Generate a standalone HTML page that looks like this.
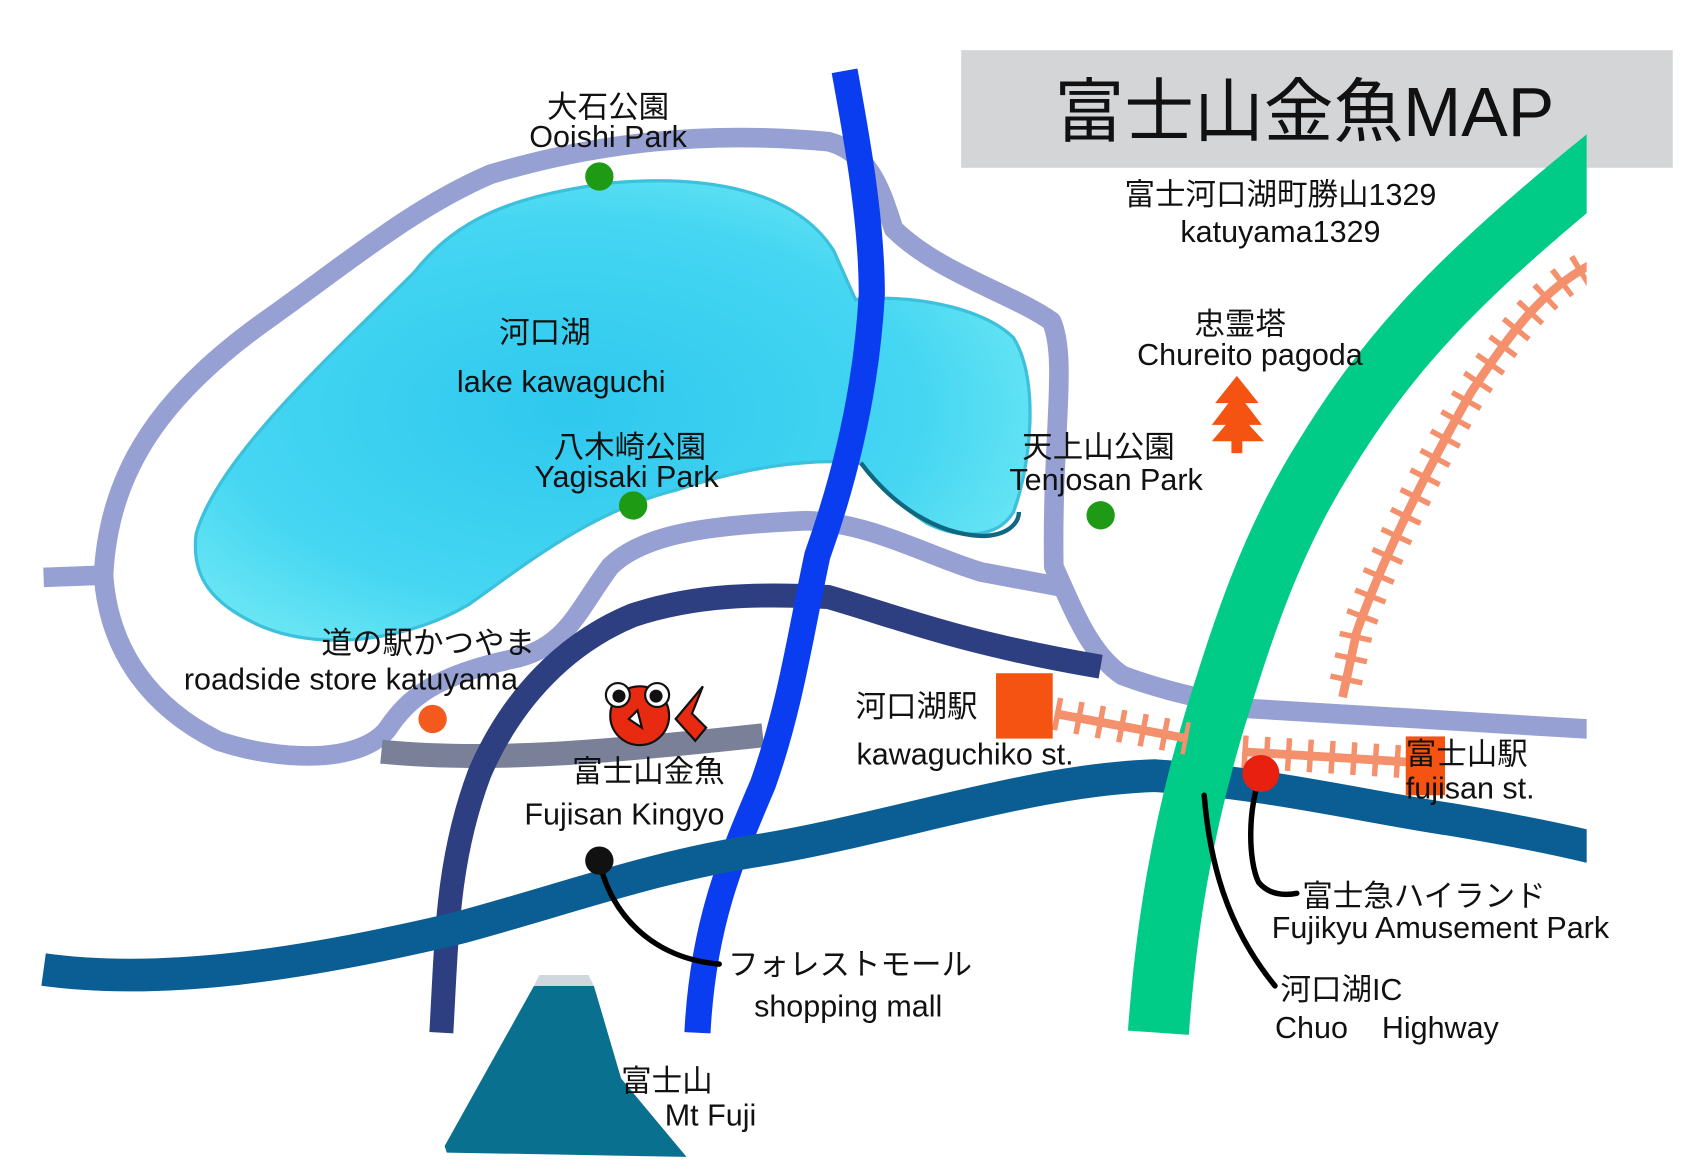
<!DOCTYPE html>
<html><head><meta charset="utf-8"><style>
html,body{margin:0;padding:0;background:#fff;}
svg{display:block;}
text{font-family:"Liberation Sans","Noto Sans CJK JP",sans-serif;font-size:28px;fill:#111;}
</style></head><body>
<svg width="1700" height="1170" viewBox="0 0 1560 1074" preserveAspectRatio="none" xmlns="http://www.w3.org/2000/svg">
<defs>
<radialGradient id="lk" cx="0.45" cy="0.5" r="0.6"><stop offset="0" stop-color="#2fc8ee"/><stop offset="0.7" stop-color="#45d6f2"/><stop offset="1" stop-color="#6ae6f4"/></radialGradient>
<clipPath id="cp"><rect x="0" y="0" width="1456" height="1074"/></clipPath>
</defs>
<rect x="882" y="46" width="653" height="108" fill="#d3d5d7"/>
<text x="1197" y="125" style="font-size:64px" text-anchor="middle">富士山金魚MAP</text>
<text x="1175" y="188" text-anchor="middle">富士河口湖町勝山1329</text>
<text x="1175" y="222" text-anchor="middle">katuyama1329</text>

<!-- lake -->
<path d="M180,490 C200,420 300,330 380,250 C420,200 470,180 560,168 C650,160 730,175 765,230 L785,275 C830,270 900,280 930,310 C955,350 945,430 930,470 C915,495 880,495 850,480 C820,460 800,440 790,425 C740,420 680,430 620,450 C540,470 480,520 430,555 C380,585 300,600 240,575 C195,555 175,530 180,490 Z" fill="url(#lk)" stroke="#3cc0dc" stroke-width="3"/>
<path d="M790,425 C820,465 860,490 900,492 C925,492 935,480 935,470" fill="none" stroke="#0f6880" stroke-width="4"/>

<g clip-path="url(#cp)">
<g fill="none" stroke="#96a0d2" stroke-width="18" stroke-linejoin="round">
<path d="M40,530 L95,528"/>
<path d="M95,528 C100,430 150,360 250,290 C320,240 380,190 450,160 C550,130 650,120 760,130 C800,140 810,180 820,210 C860,250 930,270 965,295 C980,330 965,400 967,520 C985,560 1000,600 1030,620 C1070,635 1100,640 1140,650 L1470,670"/>
<path d="M95,528 C100,600 140,650 200,680 C260,700 330,700 355,670 C375,640 400,620 470,605 C520,595 530,560 560,520 C590,490 650,482 740,478 C800,480 850,510 900,525 L980,540"/>
</g>
<path d="M350,690 C450,700 560,690 700,675" fill="none" stroke="#7a8098" stroke-width="22"/>
<path d="M405,948 C410,860 410,790 440,710 C470,640 520,590 580,565 C640,545 700,545 760,548 C820,565 880,590 1010,612" fill="none" stroke="#2d3f80" stroke-width="22"/>
<path d="M775,65 C785,120 800,200 800,270 C795,360 775,440 750,510 C735,580 725,650 700,720 C670,790 645,850 640,948" fill="none" stroke="#0a3cf0" stroke-width="24"/>
<path d="M40,890 C150,905 280,885 420,852 C520,825 600,795 700,780 C820,760 950,715 1060,712 C1160,718 1250,740 1330,752 C1390,762 1430,770 1470,780" fill="none" stroke="#0a5e94" stroke-width="30"/>
<path d="M1063,948 C1070,850 1085,760 1115,660 C1140,580 1165,500 1215,420 C1270,330 1330,260 1480,140" fill="none" stroke="#00cc88" stroke-width="56"/>
<g fill="none" stroke="#f4906c">
<path d="M1470,238 C1420,260 1390,300 1350,360 C1310,430 1270,510 1245,580 L1232,640" stroke-width="8"/>
<path d="M1470,238 C1420,260 1390,300 1350,360 C1310,430 1270,510 1245,580 L1232,640" stroke-width="30" stroke-dasharray="5 15"/>
<path d="M968,655 L1090,678" stroke-width="8"/>
<path d="M968,655 L1090,678" stroke-width="30" stroke-dasharray="5 15"/>
<path d="M1140,690 L1300,700" stroke-width="8"/>
<path d="M1140,690 L1300,700" stroke-width="30" stroke-dasharray="5 15"/>
</g>
</g>
<rect x="914" y="618" width="52" height="60" fill="#f45312"/>
<rect x="1290" y="676" width="36" height="54" fill="#f45312"/>
<g fill="#f45312">
<polygon points="1135,345 1115,370 1155,370"/>
<polygon points="1135,360 1112,390 1158,390"/>
<polygon points="1135,378 1112,405 1160,405"/>
<rect x="1130" y="400" width="10" height="16"/>
</g>
<g fill="#1e9a14"><circle cx="550" cy="162" r="13"/><circle cx="581" cy="464" r="13"/><circle cx="1010" cy="473" r="13"/></g>
<circle cx="397" cy="660" r="13" fill="#f45a1e"/>
<g fill="none" stroke="#000" stroke-width="5" stroke-linecap="round">
<path d="M550,790 C560,840 600,880 660,885"/>
<path d="M1157,712 C1145,740 1145,790 1155,810 C1165,822 1180,822 1190,820"/>
<path d="M1105,730 C1110,790 1125,850 1170,905"/>
</g>
<circle cx="550" cy="790" r="13" fill="#111"/>
<circle cx="1157" cy="710" r="17" fill="#e82010"/>
<polygon points="408,1052 490,905 545,905 570,990 630,1062 410,1058" fill="#0a7090"/>
<polygon points="490,905 545,905 540,895 495,895" fill="#cfd8dc"/>
<g stroke="#111" stroke-width="2">
<polygon points="620,660 645,630 635,655 648,668 638,680" fill="#e82a10"/>
<circle cx="587" cy="657" r="27" fill="#e82a10"/>
<circle cx="567" cy="638" r="11" fill="#fff"/><circle cx="603" cy="638" r="11" fill="#fff"/>
<circle cx="568" cy="639" r="5" fill="#111"/><circle cx="602" cy="639" r="5" fill="#111"/>
<polygon points="577,660 585,652 589,668" fill="#fff"/>
</g>

<text x="558" y="108" text-anchor="middle">大石公園</text>
<text x="558" y="135" text-anchor="middle">Ooishi Park</text>
<text x="500" y="315" text-anchor="middle">河口湖</text>
<text x="515" y="360" text-anchor="middle">lake kawaguchi</text>
<text x="578" y="420" text-anchor="middle">八木崎公園</text>
<text x="575" y="447" text-anchor="middle">Yagisaki Park</text>
<text x="1008" y="420" text-anchor="middle">天上山公園</text>
<text x="1015" y="450" text-anchor="middle">Tenjosan Park</text>
<text x="1138" y="307" text-anchor="middle">忠霊塔</text>
<text x="1147" y="335" text-anchor="middle">Chureito pagoda</text>
<text x="393" y="600" text-anchor="middle">道の駅かつやま</text>
<text x="322" y="633" text-anchor="middle">roadside store katuyama</text>
<text x="785" y="658">河口湖駅</text>
<text x="786" y="702">kawaguchiko st.</text>
<text x="1290" y="702">富士山駅</text>
<text x="1290" y="733">fujisan st.</text>
<text x="595" y="718" text-anchor="middle">富士山金魚</text>
<text x="573" y="757" text-anchor="middle">Fujisan Kingyo</text>
<text x="668" y="895">フォレストモール</text>
<text x="692" y="933">shopping mall</text>
<text x="1195" y="832">富士急ハイランド</text>
<text x="1167" y="861">Fujikyu Amusement Park</text>
<text x="1175" y="918">河口湖IC</text>
<text x="1170" y="953" xml:space="preserve">Chuo    Highway</text>
<text x="570" y="1002">富士山</text>
<text x="610" y="1033">Mt Fuji</text>
</svg>
</body></html>
